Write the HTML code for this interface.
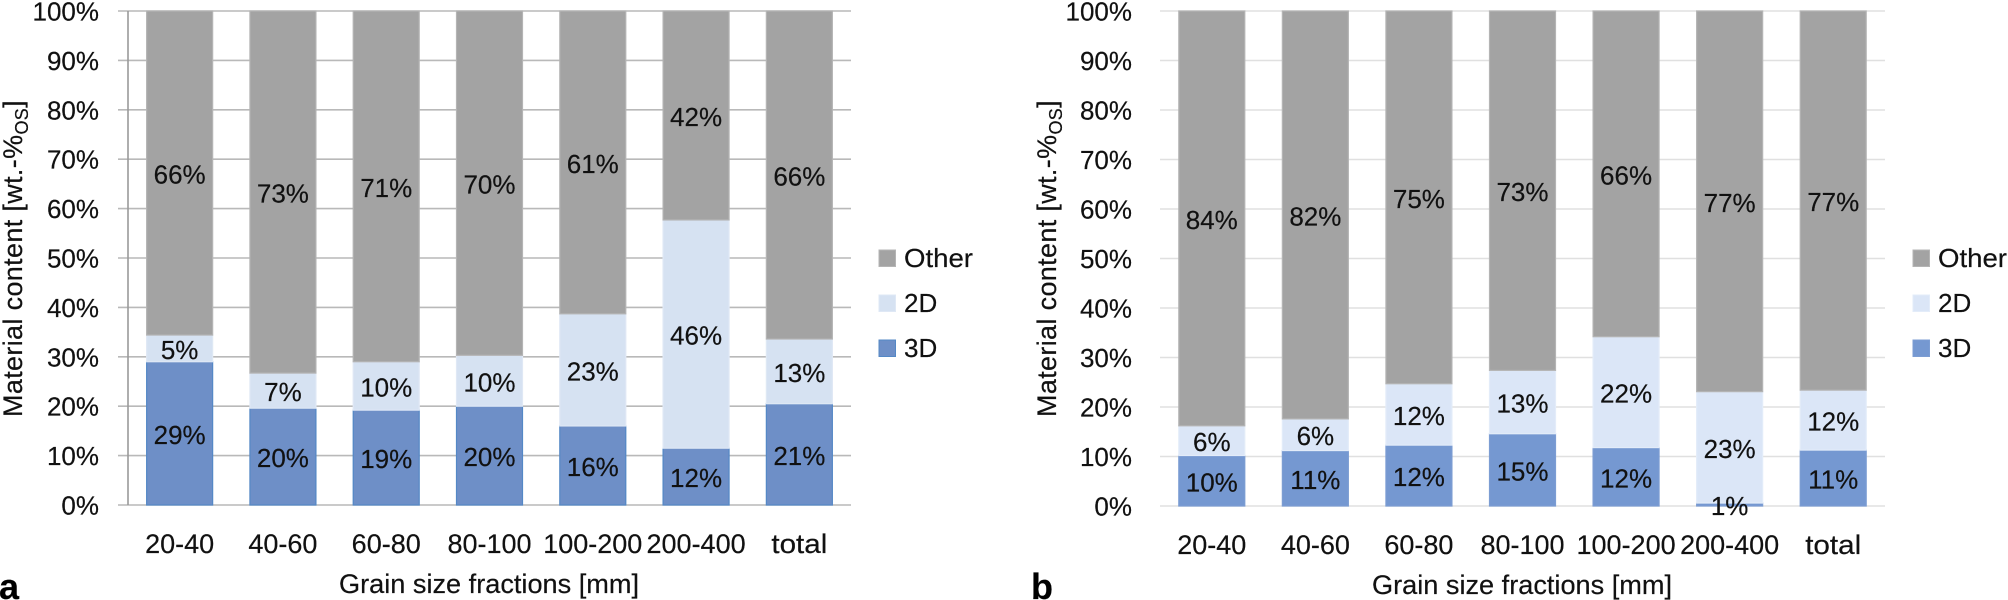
<!DOCTYPE html>
<html lang="en">
<head>
<meta charset="utf-8">
<title>Material content by grain size fraction</title>
<style>
html,body{margin:0;padding:0;background:#fff;}
svg{display:block;}
text{font-family:"Liberation Sans",Arial,sans-serif;fill:#111;stroke:#111;stroke-width:0.2px;}
</style>
</head>
<body>
<svg id="figure" xmlns="http://www.w3.org/2000/svg" width="2008" height="600" viewBox="0 0 2008 600"></svg>
<script>
const categories = ["20-40","40-60","60-80","80-100","100-200","200-400","total"];
const yTicks = [0,10,20,30,40,50,60,70,80,90,100];
const seriesNames = ["3D","2D","Other"];

const panelA3D = [29,19.6,19.2,20,16,11.5,20.5];
const panelA2D = [5.4,7.1,9.8,10.3,22.7,46.2,13.1];
const panelAOther = [65.6,73.3,71,69.7,61.3,42.3,66.4];

const panelB3D = [10.2,11.2,12.3,14.6,11.8,0.6,11.3];
const panelB2D = [6,6.4,12.4,12.8,22.4,22.5,12.1];
const panelBOther = [83.8,82.4,75.3,72.6,65.8,76.9,76.6];

const NS = "http://www.w3.org/2000/svg";
const svg = document.getElementById("figure");

function make(tag, attrs, parent){
  const el = document.createElementNS(NS, tag);
  for (const k in attrs) el.setAttribute(k, attrs[k]);
  parent.appendChild(el);
  return el;
}

function drawPanel(p){
  const yScale = v => p.y0 + (p.y100 - p.y0) * v / 100;
  const step = (p.x1 - p.x0) / categories.length;
  const xCenter = i => p.x0 + step * (i + 0.5);

  const g = make("g", {}, svg);
  
  

  yTicks.forEach(t => {
    const line = make("line", {x1:p.gridStart, x2:p.x1, y1:yScale(t), y2:yScale(t), stroke:p.grid, "stroke-width":1.6}, g);
    
    
    const label = make("text", {x:p.x0 - p.tickGap, y:yScale(t) + 9.5, "text-anchor":"end", "font-size":26}, g);
    label.textContent = t + "%";
    
    
  });

  if (p.axis) {
    const axis = make("line", {x1:p.x0, x2:p.x0, y1:p.y100, y2:p.y0, stroke:p.axis, "stroke-width":1.6}, g);
    
    
  }

  const series = [
    {name:seriesNames[0], values:p.d3, fill:p.c3, stroke:p.s3},
    {name:seriesNames[1], values:p.d2, fill:p.c2, stroke:p.s2},
    {name:seriesNames[2], values:p.dO, fill:"#a3a3a3", stroke:"#b4b4b4"}
  ];

  const barWidth = 66;
  const running = categories.map(() => 0);
  series.forEach(s => {
    s.values.forEach((v, i) => {
      const top = yScale(running[i] + v);
      const bottom = yScale(running[i]);
      const bar = make("rect", {x:xCenter(i) - barWidth / 2, y:top, width:barWidth, height:bottom - top, fill:s.fill, stroke:s.stroke, "stroke-width":1.2}, g);
      
      
      running[i] += v;
    });
  });

  running.fill(0);
  series.forEach(s => {
    s.values.forEach((v, i) => {
      const mid = yScale(running[i] + v / 2);
      const label = make("text", {x:xCenter(i), y:mid + 10.5, "text-anchor":"middle", "font-size":26}, g);
      label.textContent = Math.round(v) + "%";
      
      
      running[i] += v;
    });
  });

  categories.forEach((c, i) => {
    const label = make("text", {x:xCenter(i), y:p.y0 + 48, "text-anchor":"middle", "font-size":27}, g);
    label.textContent = c;
    
    
    if (c === "total") {
      label.setAttribute("textLength", 56);
      label.setAttribute("lengthAdjust", "spacingAndGlyphs");
    }
  });

  const xTitle = make("text", {x:p.xTitleX, y:p.y0 + 88, "font-size":27, textLength:300, lengthAdjust:"spacingAndGlyphs"}, g);
  xTitle.textContent = "Grain size fractions [mm]";
  
  

  const yTitle = make("text", {transform:"translate(" + p.yTitleX + ",417) rotate(-90)", "font-size":27}, g);
  
  
  const t1 = make("tspan", {}, yTitle);
  t1.textContent = "Material content [wt.-%";
  const t2 = make("tspan", {dy:6, "font-size":18}, yTitle);
  t2.textContent = "OS";
  const t3 = make("tspan", {dy:-6}, yTitle);
  t3.textContent = "]";
  const measured = yTitle.getComputedTextLength();
  yTitle.style.letterSpacing = ((317 - measured) / 26) + "px";

  const legendRows = [
    {name:seriesNames[2], fill:"#a3a3a3", stroke:"#b4b4b4", top:250},
    {name:seriesNames[1], fill:p.c2, stroke:p.s2, top:295},
    {name:seriesNames[0], fill:p.c3, stroke:p.s3, top:340}
  ];
  legendRows.forEach(r => {
    const entry = make("g", {}, g);
    
    
    make("rect", {x:p.legendX, y:r.top, width:16.5, height:16.5, fill:r.fill, stroke:r.stroke, "stroke-width":1}, entry);
    const label = make("text", {x:p.legendX + 25, y:r.top + 17, "font-size":26}, entry);
    label.textContent = r.name;
    if (r.name === "Other") {
      label.setAttribute("textLength", 69);
      label.setAttribute("lengthAdjust", "spacingAndGlyphs");
    }
  });

  const tag = make("text", {x:p.tagX, y:599, "font-size":36, "font-weight":"bold"}, g);
  tag.style.fill = "#000";
  tag.textContent = p.id;
  
  
}

drawPanel({id:"a", x0:128, x1:851, gridStart:118, y0:505, y100:11, tickGap:29,
  grid:"#b9b9b9", axis:"#999999", d3:panelA3D, d2:panelA2D, dO:panelAOther,
  c3:"#6e8fc7", s3:"#5488c6", c2:"#d6e2f2", s2:"#dfe8f5",
  xTitleX:339, yTitleX:22, legendX:879, tagX:-1});

drawPanel({id:"b", x0:1160, x1:1885, gridStart:1160, y0:506, y100:11, tickGap:28,
  grid:"#e0e0e0", axis:null, d3:panelB3D, d2:panelB2D, dO:panelBOther,
  c3:"#7598d1", s3:"#7c9dd3", c2:"#dbe6f7", s2:"#e3ecf9",
  xTitleX:1372, yTitleX:1056, legendX:1913, tagX:1031});
</script>
</body>
</html>
